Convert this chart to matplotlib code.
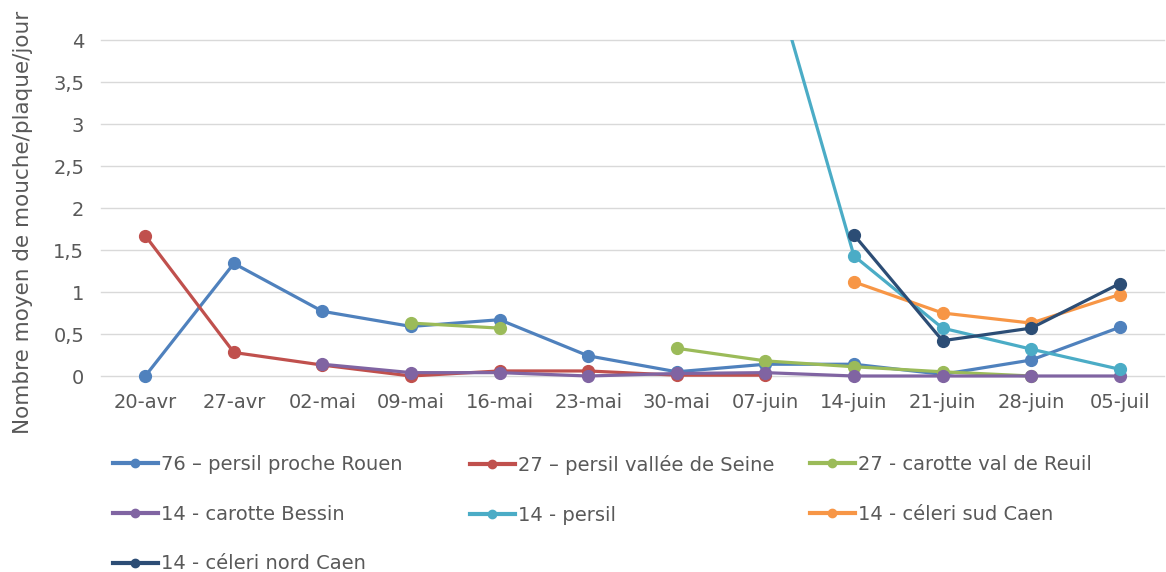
import numpy as np
import matplotlib
matplotlib.use("Agg")
import matplotlib.pyplot as plt
from matplotlib.lines import Line2D
from matplotlib.patches import Rectangle
from matplotlib.ticker import FuncFormatter

nan = np.nan

dates = ["20-avr", "27-avr", "02-mai", "09-mai", "16-mai", "23-mai",
         "30-mai", "07-juin", "14-juin", "21-juin", "28-juin", "05-juil"]

rouen_76 = [0.0, 1.34, 0.77, 0.59, 0.67, 0.24, 0.05, 0.14, 0.14, 0.02, 0.19, 0.58]
seine_27 = [1.67, 0.28, 0.13, 0.0, 0.06, 0.06, 0.01, 0.01, nan, nan, nan, nan]
reuil_27 = [nan, nan, nan, 0.63, 0.57, nan, 0.33, 0.18, 0.11, 0.05, 0.0, nan]
bessin_14 = [nan, nan, 0.14, 0.04, 0.04, 0.0, 0.03, 0.04, 0.0, 0.0, 0.0, 0.0]
persil_14 = [nan, nan, nan, nan, nan, nan, nan, 5.1, 1.43, 0.57, 0.32, 0.08]
sud_caen_14 = [nan, nan, nan, nan, nan, nan, nan, nan, 1.12, 0.75, 0.63, 0.97]
nord_caen_14 = [nan, nan, nan, nan, nan, nan, nan, nan, 1.68, 0.42, 0.57, 1.10]

series = [
    ("76 \u2013 persil proche Rouen", rouen_76, "#4F81BD"),
    ("27 \u2013 persil vallée de Seine", seine_27, "#C0504D"),
    ("27 - carotte val de Reuil", reuil_27, "#9BBB59"),
    ("14 - carotte Bessin", bessin_14, "#8064A2"),
    ("14 - persil", persil_14, "#4BACC6"),
    ("14 - céleri sud Caen", sud_caen_14, "#F79646"),
    ("14 - céleri nord Caen", nord_caen_14, "#2C4D75"),
]

text_color = "#595959"

fig = plt.figure(figsize=(11.66, 5.72), dpi=100)
ax = fig.add_axes([101 / 1166, 1 - 376 / 572, 1063 / 1166, 336 / 572])

x = np.arange(len(dates))
handles = {}
for label, vals, color in series:
    ln, = ax.plot(x, vals, color=color, linewidth=2.3, marker="o",
                  markersize=8.5, label=label)
    # clip only at the top so the markers at 0 stay whole
    clip = Rectangle((0, -0.1), 1, 1.1, transform=ax.transAxes, fill=False)
    ln.set_clip_path(clip)
    handles[label] = Line2D([], [], color=color, linewidth=3, marker="o",
                            markersize=6)

ax.set_ylim(0, 4)
ax.set_xlim(-0.5, 11.5)
ax.set_yticks(np.arange(0, 4.01, 0.5))
ax.yaxis.set_major_formatter(FuncFormatter(lambda v, p: f"{v:g}".replace(".", ",")))
ax.set_xticks(x)
ax.set_xticklabels(dates)
ax.grid(axis="y", color="#D9D9D9", linewidth=1)
for gl in ax.get_ygridlines():
    gl.set_clip_on(False)
ax.set_axisbelow(True)
for s in ax.spines.values():
    s.set_visible(False)
ax.tick_params(axis="both", length=0, colors=text_color, labelsize=14)
ax.tick_params(axis="x", pad=12)
ax.tick_params(axis="y", pad=12)
ax.set_ylabel("Nombre moyen de mouche/plaque/jour", fontsize=15.5,
              color=text_color)
ax.yaxis.set_label_coords(-0.064, 0.457)

# Excel legend is row-major: build one legend per column
columns = [
    [series[0][0], series[3][0], series[6][0]],
    [series[1][0], series[4][0]],
    [series[2][0], series[5][0]],
]
col_x = [113, 470, 810]
for labels, cx in zip(columns, col_x):
    leg = fig.legend([handles[l] for l in labels], labels,
                     loc="upper left", bbox_to_anchor=(cx / 1166, 1 - 455 / 572),
                     frameon=False, fontsize=14, handlelength=2.3,
                     handletextpad=0.15, labelspacing=1.58, borderpad=0,
                     borderaxespad=0)
    for t in leg.get_texts():
        t.set_color(text_color)

fig.savefig("out.png", dpi=100)
